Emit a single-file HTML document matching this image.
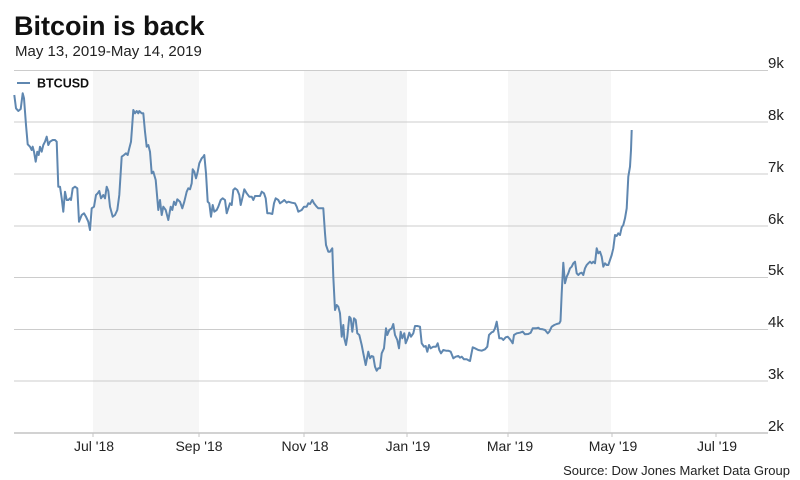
<!DOCTYPE html>
<html><head><meta charset="utf-8"><style>
html,body{margin:0;padding:0;background:#fff;width:800px;height:480px;overflow:hidden}
svg{display:block}
text{font-family:"Liberation Sans",sans-serif}
</style></head><body>
<svg width="800" height="480" viewBox="0 0 800 480" xmlns="http://www.w3.org/2000/svg">
<rect width="800" height="480" fill="#fff"/>
<text x="14" y="35" font-size="27" font-weight="bold" fill="#111">Bitcoin is back</text>
<text x="15" y="56" font-size="15" fill="#222">May 13, 2019-May 14, 2019</text>
<!-- bands -->
<rect x="93" y="70" width="106" height="363" fill="#f6f6f6"/>
<rect x="304" y="70" width="103" height="363" fill="#f6f6f6"/>
<rect x="508" y="70" width="103" height="363" fill="#f6f6f6"/>
<!-- gridlines -->
<g stroke="#cccccc" stroke-width="1">
<line x1="14" y1="70.5" x2="768" y2="70.5"/>
<line x1="14" y1="122" x2="768" y2="122"/>
<line x1="14" y1="174" x2="768" y2="174"/>
<line x1="14" y1="226" x2="768" y2="226"/>
<line x1="14" y1="277.5" x2="768" y2="277.5"/>
<line x1="14" y1="329.5" x2="768" y2="329.5"/>
<line x1="14" y1="381" x2="768" y2="381"/>
</g>
<line x1="14" y1="433" x2="768" y2="433" stroke="#c4c4c4" stroke-width="1.5"/>
<g stroke="#c4c4c4" stroke-width="1">
<line x1="93" y1="433" x2="93" y2="437"/>
<line x1="199" y1="433" x2="199" y2="437"/>
<line x1="304" y1="433" x2="304" y2="437"/>
<line x1="407" y1="433" x2="407" y2="437"/>
<line x1="508" y1="433" x2="508" y2="437"/>
<line x1="612" y1="433" x2="612" y2="437"/>
<line x1="716" y1="433" x2="716" y2="437"/>
</g>
<g font-size="15" fill="#222">
<text x="768" y="68">9k</text>
<text x="768" y="120">8k</text>
<text x="768" y="172">7k</text>
<text x="768" y="224">6k</text>
<text x="768" y="275">5k</text>
<text x="768" y="327">4k</text>
<text x="768" y="379">3k</text>
<text x="768" y="431">2k</text>
</g>
<g font-size="14" fill="#222" text-anchor="middle">
<text x="94" y="451">Jul '18</text>
<text x="199" y="451">Sep '18</text>
<text x="305" y="451">Nov '18</text>
<text x="408" y="451">Jan '19</text>
<text x="510" y="451">Mar '19</text>
<text x="613" y="451">May '19</text>
<text x="717" y="451">Jul '19</text>
</g>
<text x="790" y="475" font-size="13" fill="#222" text-anchor="end">Source: Dow Jones Market Data Group</text>
<!-- legend -->
<line x1="17" y1="83" x2="30" y2="83" stroke="#5f87b0" stroke-width="2"/>
<text x="37" y="87.5" font-size="12.5" font-weight="bold" fill="#111">BTCUSD</text>
<!-- series -->
<polyline fill="none" stroke="#5f87b0" stroke-width="2" stroke-linejoin="round" points="
14.3,95 16,108.3 18.3,111 20.7,109 22.7,93.3 24,98.3 26,125 27.7,144.3 30,146.7 31.7,150 32.7,146.7 34,151.7 35.7,161.7 37.3,151.7 38.7,155 40,146.7 41.7,151.7 43.3,145 45,141.7 46.7,136.7 48.3,145 50,141.7 52.7,140 55,140 56.7,141.7 58.3,186.7 60,186.7 61.7,198.3 63.3,211.7 65,191.7 66.7,200 68.3,200 70,198.3 71,200 72.7,188.3 75,186.7 77.3,188.3 79,221.7 81.7,215 84,213.3 86,216.7 88.3,221.7 90,230 91.7,208.3 94,206.7 96,195 97.7,193.3 99.3,191 101,198.3 103.3,195 105,198.3 106.7,186.7 108.3,191 110,206.7 112.7,216.7 115,215 117.3,210 119.3,195 121.7,156.7 124,155 126,153.3 127.7,155 129.3,148.3 131,141.7 132,128.3 133.3,110 135,113.3 136.7,111 138.3,113.3 139.3,111 141.7,113.3 143.3,113.3 145,131.7 146.7,146.7 148.3,145 150,151.7
151.7,173.3 153.3,171.7 155.7,180 158.3,210 160,200 161.7,215 163.3,206.7 165.7,210 168.3,220 170.7,206.7 172.3,210 174,201.7 175.7,205 177.3,199.3 180,201.7 182.3,208.3 184.3,201.7 186.7,191.7 188.3,188.3 190,189.3 191.7,183.3 192.7,169.3 194.3,171.7 196,178.3 197.7,171.7 199.3,163.3 201.7,158.3 203.3,156.7 204.3,155 206,173.3 207.7,201.7 209.3,203.3 211,216.7 212.7,205 214.3,211.7 216.7,210 218.3,206.7 220.7,200 222.7,198.3 225,200 226.7,213.3 228.3,208.3 230,203.3 231.7,205 233.3,190 235,188.3 237.3,190 239.3,195 240.7,205 242.7,196.7 244.3,189.3 246.7,193.3 249.3,196.7 251.7,196.7 253.3,200 255,196 257.3,196 260,196 261.7,191.7 264,193.3 265.7,198.3 267.3,213.3 270,213.3 272.3,214 274,203.3 275.7,198.3 278.3,200 280,203.3 282.3,201.7 284.3,200 286.7,202.7 288.3,201.7 291.7,202.7 295,203.3 296.7,206.7 298.3,211.7 301.7,210 304,206.7 306.7,206.7 308.3,203.3 310,204 312.3,200 314,203.3 316.7,206.7 318.3,208.3 321.7,208.3 323.3,208.3
325,233.3 326,245 328.3,251.7 330,251.7 332.3,248.3 333.3,276.7 335,310 336.7,305 338.3,306.7 340,313.3 341.7,336.7 343.3,325 344.3,338.3 346,345 347.3,336.7 349.3,316.7 350.7,318.3 352.3,331.7 354,318.3 355.7,320 357.3,333.3 359.3,335 361.7,345 363.3,353.3 365.7,365 368.3,351.7 370,358.3 371.7,356 373.3,356.7 375,366.7 376.7,370.7 378.3,368.3 380,368.3 381.7,353.3 384,348.3 386,328.3 387.3,335 389.3,330 391.7,328.3 393.3,324 395,335 397.3,340 399,348.3 400.7,331.7 402.3,338.3 404.3,333.3 405.7,343.3 407.7,338.3 409.3,332.7 411,336.7 413.3,333.3 415,326 417.3,326 420,326.7 421.7,343.3 424,346.7 425.7,346 427.3,351.7 429,345 430.7,348.3 433.3,346.7 436,346.7 437.7,343.3 439.3,350 441,353.3 443.3,350 446,350.7 448.3,350.7 450.7,351.7 453.3,358.3 455.7,356.7 458.3,356 460,357.7 461.7,356.7 464,359.3 466.7,359.3 469.3,360.7
470,361 472.7,347.3 475,348.3 478.3,350 481.7,350.7 485,349.3 487.3,346.7 489,335 491.7,332.3 493.3,331.7 495,328.3 496.7,321.7 498,330 499.3,338.3 501.7,338.3 503.3,340 505.7,337.3 507.7,336.7 510,339.3 511.7,341.7 512.7,343.3 514,335 516.7,333.3 520,332.7 522.7,331.7 525,334.3 528.3,334 530.7,332.7 532.7,328.3 536,328.3 538.3,327.7 540,329 542.7,329.3 545,330 547.7,333.3 549.3,331.7 551.7,326.7 554.3,325 556.7,324 559.3,323.3 560.5,321
561.7,293.3 563.3,262.7 565,283.3 566.7,276.7 568.3,273.3 570,268.3 571.7,266.7 573.3,263.3 575,261.7 576.7,273.3 578.3,275 580,273.3 581.7,272.7 583.3,275 585,268.3 586.7,265 588.3,263.3 590,261.7 591.7,263.3 593.3,261.7 595,263.3 596.7,248.3 598.3,253.3 600,251.7 601.7,256.7 603.3,266.7 605,263.3 606.7,265 608.3,265 610,260 611.7,255 613.3,248.3 615,235 616.7,236 618.3,233.3 620,235 621.7,227.3 623.3,225 625,218.3 626.7,208.3 628.3,176.7 630,166.7 631,150 631.7,130"/>
</svg>
</body></html>
